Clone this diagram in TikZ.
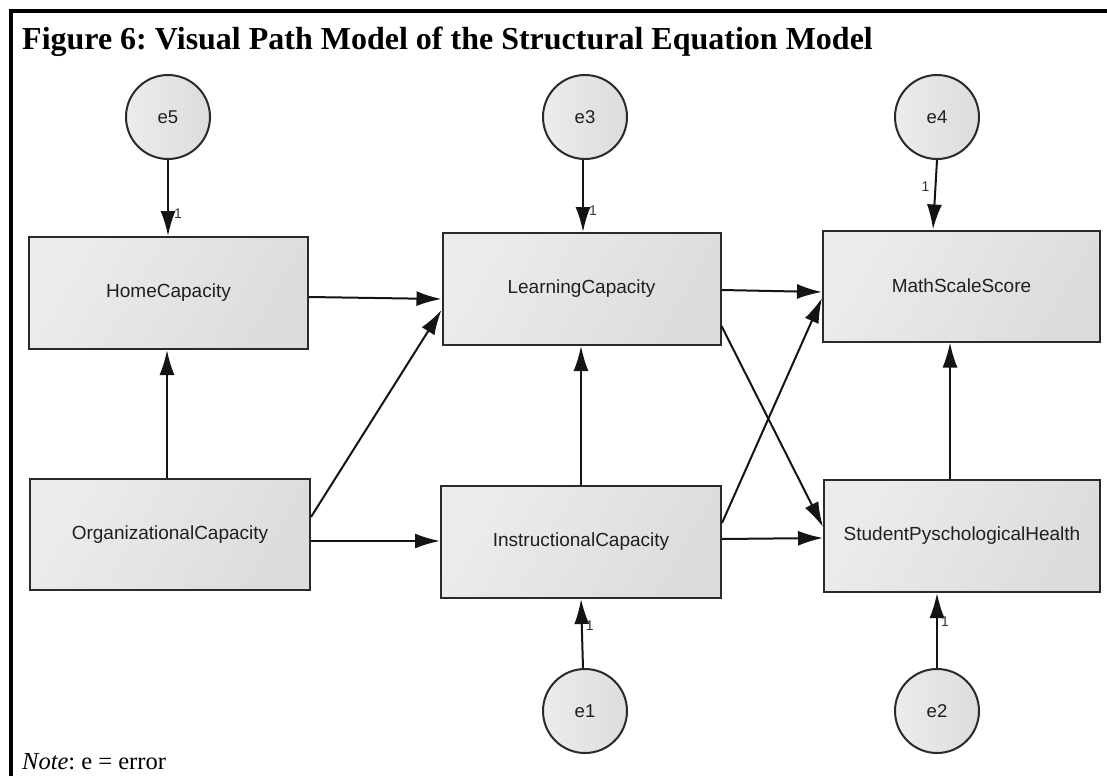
\documentclass[tikz,border=0pt]{standalone}
\usepackage{fontspec}
\setmainfont{Liberation Serif}
\newfontfamily\arialf{Liberation Sans}
\usetikzlibrary{arrows.meta}
\frenchspacing
\definecolor{boxline}{HTML}{2A2A2A}
\definecolor{boxlight}{HTML}{ECECEC}
\definecolor{boxdark}{HTML}{DCDCDC}
\tikzset{
  varbox/.style={draw=boxline, line width=2pt, left color=boxlight, right color=boxdark, shading angle=60,
    minimum width=#1, minimum height=112pt, inner sep=0pt, font=\arialf\fontsize{19}{22}\selectfont, text=black!88},
  errc/.style={circle, draw=boxline, line width=2pt, left color=boxlight, right color=boxdark,
    minimum size=84pt, inner sep=0pt, font=\arialf\fontsize{18.5}{21}\selectfont, text=black!88},
  path/.style={draw=black!92, line width=2pt, -{Latex[length=25pt,width=15pt]}},
  one/.style={font=\arialf\fontsize{14}{16}\selectfont, text=black!80, inner sep=0pt}
}
\begin{document}
\begin{tikzpicture}[x=1pt,y=-1pt]
\useasboundingbox (0,0) rectangle (1107,776);
\fill[white] (0,0) rectangle (1107,776);
% frame
\draw[line width=4pt] (11,776) -- (11,11) -- (1107,11);
% title and note
\node[anchor=base west, inner sep=0pt, font=\bfseries\fontsize{32}{36}\selectfont] (title) at (22,50) {Figure 6: Visual Path Model of the Structural Equation Model};
\node[anchor=base west, inner sep=0pt, font=\fontsize{24.5}{28}\selectfont] (note) at (22,769) {\textit{Note}: e = error};
% boxes
\node[varbox=279pt] (home) at (168.5,293) {HomeCapacity};
\node[varbox=280pt, minimum height=111pt] (org) at (170,534.5) {OrganizationalCapacity};
\node[varbox=278pt] (learn) at (581.5,289) {LearningCapacity};
\node[varbox=280pt] (instr) at (581,542) {InstructionalCapacity};
\node[varbox=277pt, minimum height=111pt] (math) at (961.5,286) {MathScaleScore};
\node[varbox=276pt] (sph) at (962,536) {StudentPyschologicalHealth};
% error circles
\node[errc] (e5) at (168,117) {e5};
\node[errc] (e3) at (585,117) {e3};
\node[errc] (e4) at (937,117) {e4};
\node[errc] (e1) at (585,711) {e1};
\node[errc] (e2) at (937,711) {e2};
% paths between variables
\draw[path] ([yshift=-4pt]home.east) -- ([yshift=-10pt]learn.west);
\draw[path] ([xshift=-3pt]org.north) -- ([xshift=-1.5pt]home.south);
\draw[path] ([yshift=17.5pt]org.east) -- ([yshift=-21pt]learn.west);
\draw[path] ([yshift=-6.5pt]org.east) -- ([yshift=1pt]instr.west);
\draw[path] (instr.north) -- (instr.north |- learn.south);
\draw[path] ([yshift=-1pt]learn.east) -- ([yshift=-6pt]math.west);
\draw[path] ([yshift=-37pt]learn.east) -- ([yshift=9pt]sph.west);
\draw[path] ([yshift=19pt]instr.east) -- ([yshift=-12pt]math.west);
\draw[path] ([yshift=3pt]instr.east) -- ([yshift=-2pt]sph.west);
\draw[path] ([xshift=-12pt]sph.north) -- ([xshift=-12pt]sph.north |- math.south);
% error paths
\draw[path] (e5.south) -- (e5.south |- home.north) node[one, pos=0.7, right=5pt] {1};
\draw[path] ([xshift=-2pt]e3.south) -- ([xshift=-2pt]e3.south |- learn.north) node[one, pos=0.7, right=5pt] {1};
\draw[path] (e4.south) -- ([xshift=-4pt]e4.south |- math.north) node[one, pos=0.38, left=5pt] {1};
\draw[path] ([xshift=-2pt]e1.north) -- ([xshift=-4pt]e1.north |- instr.south) node[one, pos=0.62, right=3pt] {1};
\draw[path] (e2.north) -- (e2.north |- sph.south) node[one, pos=0.62, right=3pt] {1};
\end{tikzpicture}
\end{document}
